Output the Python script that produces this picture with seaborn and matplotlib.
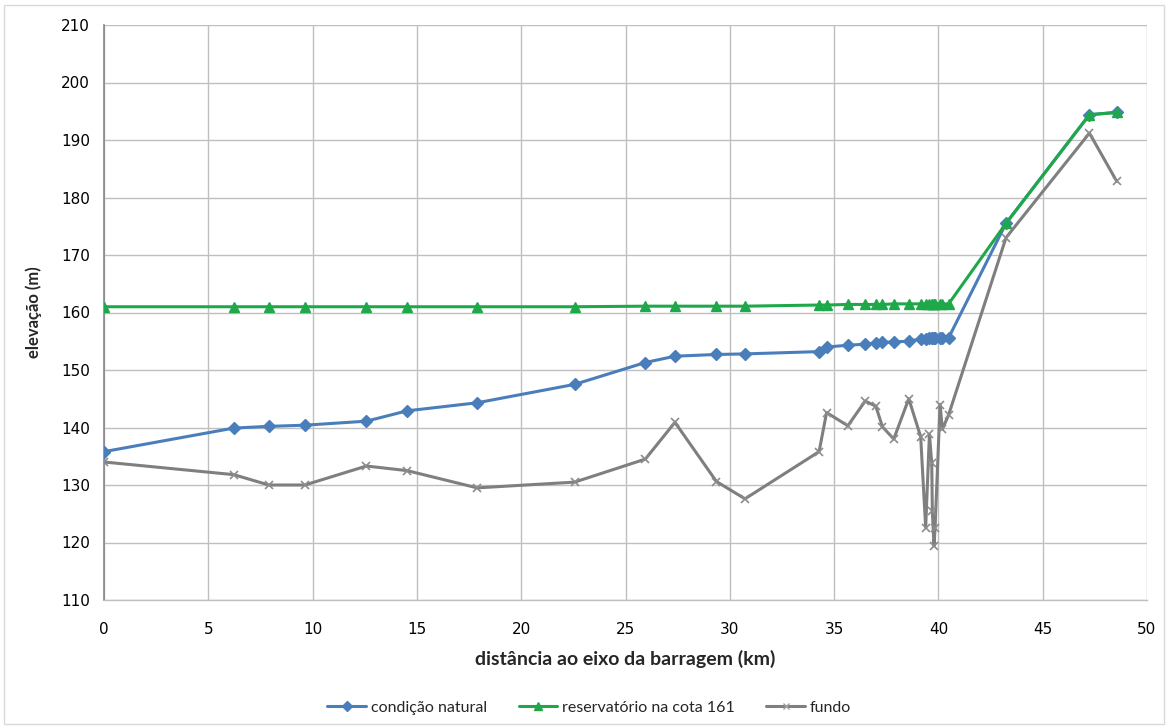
import matplotlib
matplotlib.use("Agg")
import matplotlib.pyplot as plt
from matplotlib.patches import Rectangle
from matplotlib.lines import Line2D
import seaborn as sns
import pandas as pd

# Distance of each cross-section from the dam axis (km)
distancia_km = [0.0, 6.22, 7.90, 9.63, 12.58, 14.53, 17.89, 22.56, 25.95, 27.37,
                29.36, 30.73, 34.28, 34.64, 35.66, 36.49, 37.00, 37.32, 37.86, 38.58,
                39.15, 39.39, 39.57, 39.68, 39.71, 39.79, 39.84, 40.08, 40.19, 40.49,
                43.24, 47.24, 48.55]

# Water level, natural condition (m)
condicao_natural = [135.8, 139.9, 140.2, 140.4, 141.1, 142.9, 144.3, 147.5, 151.3, 152.4,
                    152.7, 152.8, 153.2, 154.0, 154.3, 154.5, 154.7, 154.8, 154.9, 155.0,
                    155.4, 155.4, 155.5, 155.5, 155.5, 155.5, 155.5, 155.5, 155.5, 155.6,
                    175.5, 194.4, 194.8]

# Water level with reservoir at elevation 161 (m)
reservatorio_161 = [161.0, 161.0, 161.0, 161.0, 161.0, 161.0, 161.0, 161.0, 161.1, 161.1,
                    161.1, 161.1, 161.3, 161.3, 161.4, 161.4, 161.4, 161.4, 161.5, 161.5,
                    161.5, 161.5, 161.5, 161.5, 161.5, 161.5, 161.5, 161.5, 161.5, 161.5,
                    175.5, 194.4, 194.8]

# River bed elevation (m)
fundo = [134.0, 131.8, 130.0, 130.0, 133.3, 132.5, 129.5, 130.5, 134.5, 140.9,
         130.6, 127.6, 135.8, 142.6, 140.3, 144.6, 143.7, 140.1, 138.0, 145.0,
         138.4, 122.6, 138.8, 133.9, 125.4, 119.4, 122.5, 144.0, 139.7, 142.2,
         173.0, 191.2, 182.8]

nomes = ["condição natural", "reservatório na cota 161", "fundo"]
x_ticks = [0, 5, 10, 15, 20, 25, 30, 35, 40, 45, 50]
y_ticks = [110, 120, 130, 140, 150, 160, 170, 180, 190, 200, 210]

df = pd.DataFrame({
    "distancia": distancia_km * 3,
    "elevacao": condicao_natural + reservatorio_161 + fundo,
    "serie": [nomes[0]] * len(distancia_km) + [nomes[1]] * len(distancia_km) + [nomes[2]] * len(distancia_km),
})

sns.set_style("white")
plt.rcParams["font.family"] = ["DejaVu Sans"]

cores = {nomes[0]: "#4A7EBB", nomes[1]: "#1FA84A", nomes[2]: "#7F7F7F"}
marcadores = {nomes[0]: "D", nomes[1]: "^", nomes[2]: "x"}
tamanhos = {nomes[0]: 6, nomes[1]: 7, nomes[2]: 6}

fig = plt.figure(figsize=(11.69, 7.28), dpi=100)
ax = fig.add_axes([104 / 1169, 1 - 600 / 728, (1147 - 104) / 1169, (600 - 25) / 728])

# draw bed first, then natural condition, then reservoir on top
for nome in [nomes[2], nomes[0], nomes[1]]:
    sub = df[df["serie"] == nome]
    sns.lineplot(data=sub, x="distancia", y="elevacao", ax=ax, sort=False,
                 estimator=None, color=cores[nome], linewidth=2.2,
                 marker=marcadores[nome], markersize=tamanhos[nome],
                 markeredgecolor=cores[nome] if nome != nomes[2] else "#8C8C8C",
                 markeredgewidth=1.0 if nome != nomes[2] else 1.2,
                 legend=False, zorder=3 if nome != nomes[1] else 4)

# blue markers where the two water levels coincide upstream
sub_b = df[(df["serie"] == nomes[0]) & (df["distancia"] > 43)]
ax.plot(sub_b["distancia"], sub_b["elevacao"], linestyle="none", marker="D",
        markersize=5, color=cores[nomes[0]], zorder=3.5)

ax.set_xlim(0, 50)
ax.set_ylim(110, 210)
ax.set_xticks(x_ticks)
ax.set_yticks(y_ticks)
ax.grid(True, color="#BFBFBF", linewidth=1.0)
ax.set_axisbelow(True)

for s in ["top", "right"]:
    ax.spines[s].set_visible(False)
ax.spines["left"].set_color("#868686")
ax.spines["left"].set_linewidth(1.2)
ax.spines["bottom"].set_color("#BFBFBF")
ax.spines["bottom"].set_linewidth(1.0)

ax.tick_params(axis="both", which="both", labelsize=11, colors="#000000",
               length=5, width=1, pad=5)
ax.tick_params(axis="y", color="#868686")
ax.tick_params(axis="x", color="#BFBFBF", length=0, pad=16)

ax.set_xlabel("distância ao eixo da barragem (km)", fontsize=14,
              fontweight="bold", family=["Lato", "DejaVu Sans"], labelpad=9)
ax.set_ylabel("elevação (m)", fontsize=12, fontweight="bold",
              family=["Lato", "DejaVu Sans"], labelpad=14)

handles = [
    Line2D([], [], color=cores[nomes[0]], marker="D", markersize=5, linewidth=2.2),
    Line2D([], [], color=cores[nomes[1]], marker="^", markersize=6, linewidth=2.2),
    Line2D([], [], color=cores[nomes[2]], marker="x", markersize=5, linewidth=2.2,
           markeredgecolor="#A0A0A0"),
]
fig.legend(handles, nomes, loc="center", bbox_to_anchor=(0.504, 1 - 708 / 728),
           ncol=3, frameon=False, prop={"family": ["Lato", "DejaVu Sans"], "size": 11.5},
           handlelength=2.4, handletextpad=0.3, columnspacing=2.0)

# chart area border
fig.patches.append(Rectangle((4 / 1169, 4 / 728), 1 - 9 / 1169, 1 - 9 / 728,
                             transform=fig.transFigure, fill=False,
                             edgecolor="#D9D9D9", linewidth=1.0))

fig.savefig("out.png", dpi=100)
